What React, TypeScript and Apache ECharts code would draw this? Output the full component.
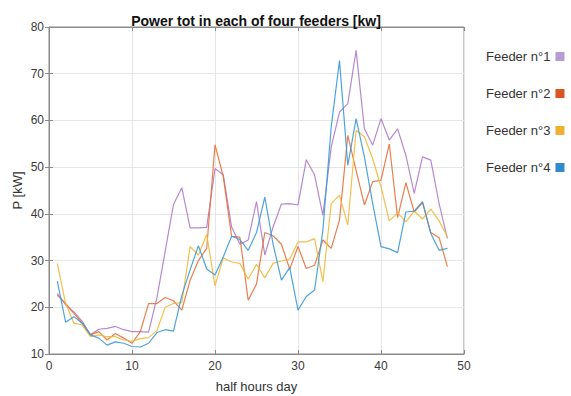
import React, { useEffect, useRef } from "react";
import * as echarts from "echarts";

const halfHours = [
  1, 2, 3, 4, 5, 6, 7, 8, 9, 10, 11, 12, 13, 14, 15, 16, 17, 18, 19, 20, 21, 22, 23, 24,
  25, 26, 27, 28, 29, 30, 31, 32, 33, 34, 35, 36, 37, 38, 39, 40, 41, 42, 43, 44, 45, 46, 47, 48,
];

const feeder1 = [
  23, 20.5, 19, 17, 14.1, 15.3, 15.5, 15.9, 15.2, 14.8, 14.8, 14.7, 22, 32, 42, 45.6,
  37, 37, 37.1, 49.7, 48.3, 37.2, 33.5, 34.4, 42.6, 31.2, 37.2, 42.1, 42.2, 41.9, 51.6, 48.3,
  39.7, 54.3, 61.8, 63.6, 75, 58.2, 54.7, 60.4, 55.8, 58.2, 52.5, 44.4, 52.2, 51.5, 42.2, 34.7,
];
const feeder2 = [
  22.6, 20.8, 18.7, 16.6, 14.1, 14.8, 13, 14.4, 13.4, 12.3, 14.8, 20.8, 20.8, 22.1, 21.4, 19.4,
  25.8, 30, 32.6, 54.8, 47.9, 35.2, 35, 21.5, 25, 36, 35.3, 33.5, 28.2, 33, 28.3, 29,
  34.4, 32.6, 38.7, 56.8, 49.3, 41.9, 46.9, 47.2, 55, 39.2, 46.7, 40.4, 42.4, 36, 34.9, 28.7,
];
const feeder3 = [
  29.4, 20.8, 16.6, 16.2, 13.7, 14.1, 13.7, 13.7, 13, 12.7, 13.3, 13.5, 15, 20, 20.8, 21,
  33, 31.2, 35.6, 24.6, 30.6, 29.7, 29.4, 26, 29.2, 26.3, 29.4, 29.9, 30.3, 34, 34, 34.7,
  25.5, 42.2, 44, 37.6, 57.9, 56.5, 51.8, 45.8, 38.5, 40.2, 38.3, 40.6, 38.9, 41, 38.5, 35.1,
];
const feeder4 = [
  25.6, 16.8, 18, 16.6, 14.1, 13.4, 11.9, 12.6, 12.3, 11.6, 11.5, 12.3, 14.6, 15.2, 14.9, 22.5,
  28, 33.2, 28.2, 26.9, 30.8, 35.2, 34.5, 32.2, 36, 43.6, 33.5, 25.8, 28.5, 19.4, 22.3, 23.7,
  36.5, 58.6, 72.8, 50.4, 60.4, 52.2, 42.2, 33, 32.5, 31.7, 40.4, 40.6, 42.6, 35.8, 32.2, 32.6,
];

const seriesNames = ["Feeder n°1", "Feeder n°2", "Feeder n°3", "Feeder n°4"];
const seriesValues = [feeder1, feeder2, feeder3, feeder4];
const lineColors = ["#b07cc8", "#e8703a", "#f2b93a", "#3a9ad8"];
const legendColors = ["#b79bd1", "#db5424", "#f0b12e", "#2f8bcc"];

const FONT = "'Liberation Sans', Arial, sans-serif";

export default function App() {
  const ref = useRef<HTMLDivElement>(null);

  useEffect(() => {
    if (!ref.current) return;
    const chart = echarts.init(ref.current, null, { renderer: "svg" });

    const baseAxis = {
      axisLine: { show: true, lineStyle: { color: "#8a8a8a", width: 1 } },
      axisTick: { show: true, inside: true, length: 4, lineStyle: { color: "#8a8a8a" } },
      axisLabel: { color: "#3a3a3a", fontSize: 12, fontFamily: FONT },
    };

    chart.setOption({
      animation: false,
      backgroundColor: "#ffffff",
      textStyle: { fontFamily: FONT },
      title: {
        text: "Power tot in each of four feeders [kw]",
        left: 251,
        textAlign: "center",
        top: 9,
        textStyle: { fontSize: 14, fontWeight: "bold", color: "#111", fontFamily: FONT },
      },
      legend: {
        orient: "vertical",
        left: 481,
        top: 45,
        align: "right",
        itemWidth: 9,
        itemHeight: 9,
        itemGap: 24,
        itemTextGap: 9,
        textStyle: { fontSize: 13, color: "#333", fontFamily: FONT },
        data: seriesNames.map((n, i) => ({
          name: n,
          icon: "rect",
          itemStyle: { color: legendColors[i] },
        })),
      },
      grid: {
        left: 49,
        right: 107,
        top: 27,
        bottom: 42,
        containLabel: false,
        outerBoundsMode: "none",
        show: true,
        borderColor: "#8a8a8a",
        borderWidth: 1,
      },
      xAxis: [
        {
          ...baseAxis,
          type: "value",
          min: 0,
          max: 50,
          interval: 10,
          name: "half hours day",
          nameLocation: "middle",
          nameGap: 26,
          nameMoveOverlap: false,
          nameTextStyle: { fontSize: 13, color: "#333", fontFamily: FONT },
          axisLabel: { ...baseAxis.axisLabel, margin: 6 },
          splitLine: { show: true, lineStyle: { color: "#e6e6e6" } },
        },
        {
          ...baseAxis,
          type: "value",
          position: "top",
          min: 0,
          max: 50,
          interval: 10,
          axisLabel: { show: false },
          splitLine: { show: false },
        },
      ],
      yAxis: [
        {
          ...baseAxis,
          type: "value",
          min: 10,
          max: 80,
          interval: 10,
          name: "P [kW]",
          nameLocation: "middle",
          nameGap: 25,
          nameMoveOverlap: false,
          nameTextStyle: { fontSize: 13, color: "#333", fontFamily: FONT },
          axisLabel: { ...baseAxis.axisLabel, margin: 5 },
          splitLine: { show: true, lineStyle: { color: "#e6e6e6" } },
        },
        {
          ...baseAxis,
          type: "value",
          position: "right",
          min: 10,
          max: 80,
          interval: 10,
          axisLabel: { show: false },
          splitLine: { show: false },
        },
      ],
      series: seriesNames.map((n, i) => ({
        name: n,
        type: "line",
        xAxisIndex: 0,
        yAxisIndex: 0,
        showSymbol: false,
        symbol: "none",
        color: lineColors[i],
        lineStyle: { width: 1.2, color: lineColors[i], opacity: 0.9 },
        data: halfHours.map((h, k) => [h, seriesValues[i][k]]),
      })),
    });

    return () => chart.dispose();
  }, []);

  return (
    <div
      ref={ref}
      style={{ position: "fixed", left: 0, top: 0, width: 571, height: 396, background: "#fff" }}
    />
  );
}
